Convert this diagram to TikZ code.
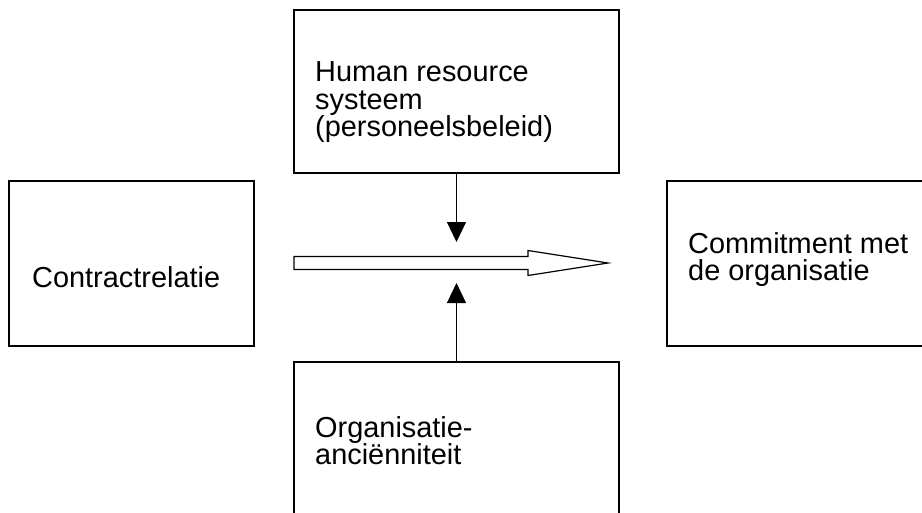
\documentclass[tikz,border=0pt]{standalone}
\usepackage{fontspec}
\setmainfont{Liberation Sans}
\usetikzlibrary{arrows.meta}
\tikzset{
	box/.style={draw, line width=1.2pt, inner sep=0pt},
	boxtext/.style={anchor=north west, inner sep=0pt, align=left, font=\fontsize{28.9}{27.5}\selectfont},
	push/.style={line width=1.2pt, -{Triangle[width=19pt, length=20pt]}}
}

\begin{document}
\begin{tikzpicture}[x=1pt, y=-1pt]
		%%%%% START %%%%%
		
		\path[use as bounding box, clip] (0, 0) rectangle (922, 512);
		
		\node[box, minimum width=325pt, minimum height=163pt] (hrm) at (456.5, 91.5) {};
		\node[box, minimum width=245pt, minimum height=165pt] (contract) at (131.5, 263.5) {};
		\node[box, minimum width=265pt, minimum height=165pt] (commit) at (799.5, 263.5) {};
		\node[box, minimum width=325pt, minimum height=163pt] (anc) at (456.5, 443.5) {};
		
		\node[boxtext] (hrmtext) at (315, 61.5) {Human resource\\systeem\\(personeelsbeleid)};
		\node[boxtext, anchor=base west] (contracttext) at (32, 287) {Contractrelatie};
		\node[boxtext] (committext) at (688, 232) {Commitment met\\de organisatie};
		\node[boxtext] (anctext) at (315, 416) {Organisatie-\\anciënniteit};
		
		\draw[line width=1.2pt, fill=white] (294, 256.5) -- (528, 256.5) -- (528, 250.5) -- (608, 263) -- (528, 275.5) -- (528, 269.5) -- (294, 269.5) -- cycle;
		
		\coordinate (down) at (456.5, 242);
		\coordinate (up) at (456.5, 283);
		\draw[push] (hrm.south) -- (down);
		\draw[push] (anc.north) -- (up);
		
		%%%%% END %%%%%
	\end{tikzpicture}
\end{document}
